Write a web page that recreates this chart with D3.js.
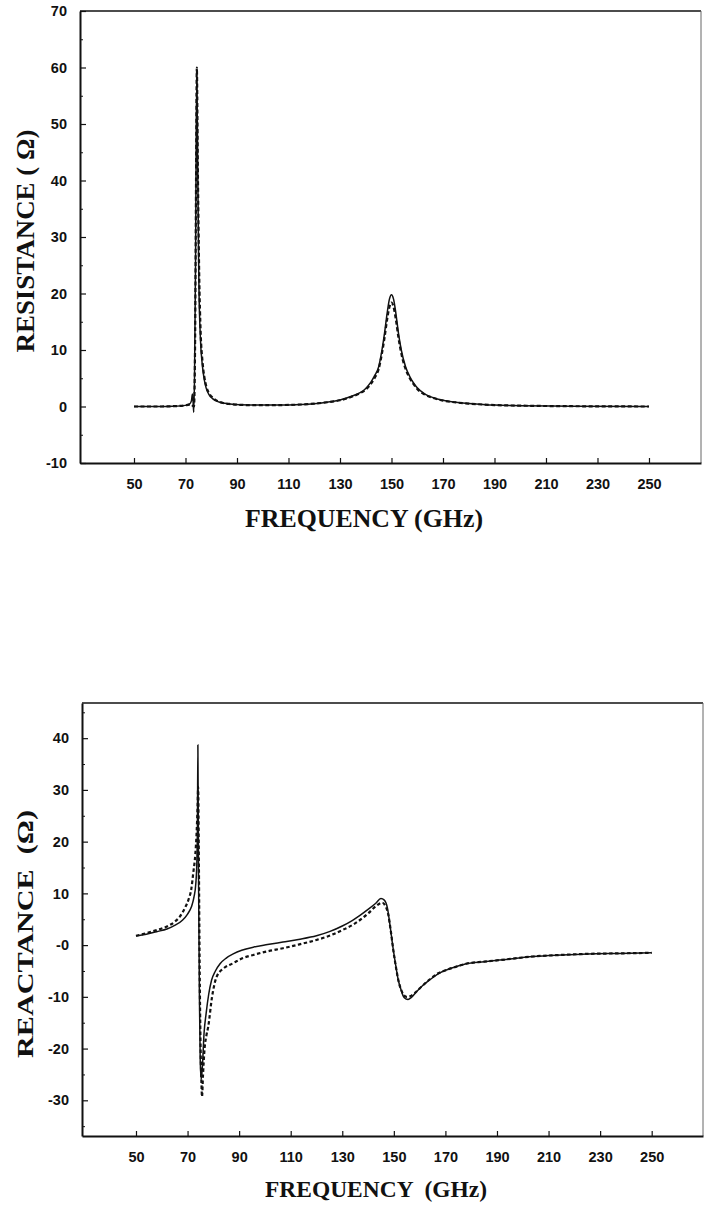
<!DOCTYPE html>
<html>
<head>
<meta charset="utf-8">
<script src="https://cdn.jsdelivr.net/npm/d3@7"></script>
<style>
  html, body { margin: 0; padding: 0; background: #fff; }
  svg { display: block; }
</style>
</head>
<body>
<script>
// ---------- DATA ----------
// Resistance (top panel)
const resSolidFreq = [50, 55, 60, 65, 70, 71.5, 72.3, 72.7, 73.0, 73.2, 73.5, 73.9, 74.2, 74.4, 74.8, 75.2, 75.8, 76.5, 77.2, 78, 79, 80.5, 83, 87, 95, 105, 115, 120, 125, 130, 135, 138, 140, 142, 143.5, 145, 146.3, 147.3, 148.3, 149.2, 150, 150.8, 151.7, 152.7, 153.8, 155.5, 157, 158.5, 160, 163, 166, 170, 175, 180, 190, 200, 220, 250];
const resSolid     = [0, 0, 0, 0.05, 0.2, 0.4, 1.0, 2.2, 0.5, -1.0, 5, 25, 50, 58, 40, 22, 12, 7.5, 5, 3.3, 2.2, 1.4, 0.8, 0.45, 0.25, 0.25, 0.35, 0.5, 0.75, 1.15, 1.9, 2.5, 3.2, 4.3, 5.5, 7.0, 10, 13, 16.5, 19, 19.8, 19, 16.5, 13, 10, 7.0, 5.4, 4.2, 3.3, 2.2, 1.6, 1.1, 0.75, 0.55, 0.25, 0.15, 0.05, 0];

const resDashFreq = [50, 55, 60, 65, 70, 72, 73.3, 73.7, 74.1, 74.4, 74.8, 75.3, 75.9, 76.6, 77.3, 78.1, 79.2, 80.7, 83, 87, 95, 105, 115, 120, 125, 130, 135, 138, 140, 142, 143.5, 145, 146.3, 147.3, 148.3, 149.2, 150, 150.8, 151.7, 152.7, 153.8, 155.5, 157, 158.5, 160, 163, 166, 170, 175, 180, 190, 200, 220, 250];
const resDash     = [0, 0, 0, 0.05, 0.2, 0.4, 0, 10, 40, 60, 42, 24, 13, 8, 5.3, 3.5, 2.3, 1.5, 0.85, 0.45, 0.25, 0.25, 0.35, 0.5, 0.75, 1.1, 1.8, 2.4, 3.0, 4.0, 5.1, 6.6, 9.4, 12.2, 15.4, 17.6, 18.4, 17.6, 15.4, 12.2, 9.4, 6.6, 5.1, 4.0, 3.1, 2.1, 1.55, 1.05, 0.72, 0.52, 0.25, 0.15, 0.05, 0];

// Reactance (bottom panel)
const reaSolidFreq = [50, 54, 58, 62, 65, 68, 70, 71.5, 72.5, 73.2, 73.6, 73.85, 74.0, 74.3, 74.6, 74.9, 75.3, 75.8, 76.4, 77.2, 78.2, 79.3, 80.8, 82.6, 85, 87.7, 91, 95.5, 101, 107, 113, 120, 125, 130, 134, 137, 140, 143, 145, 146.3, 147.5, 148.6, 149.7, 150.7, 151.7, 152.7, 153.6, 154.6, 155.5, 156.8, 158.8, 161, 164, 167, 170.4, 174, 178, 185, 191, 204, 215, 225, 237, 250];
const reaSolid     = [1.75, 2.1, 2.6, 3.1, 3.8, 4.8, 6.0, 7.4, 9.3, 11.9, 16, 24, 38.7, 10, -10, -22, -26, -23, -17, -13.2, -9.5, -6.8, -5, -3.6, -2.5, -1.7, -1.0, -0.4, 0.1, 0.6, 1.1, 1.8, 2.6, 3.7, 4.8, 5.8, 6.9, 8.1, 9.0, 8.7, 7.2, 3.5, -0.6, -3.8, -6.7, -8.5, -9.8, -10.4, -10.5, -10.1, -9.0, -7.9, -6.7, -5.6, -4.8, -4.2, -3.6, -3.2, -2.9, -2.2, -1.9, -1.7, -1.6, -1.5];

const reaDashFreq = [50, 54, 58, 62, 65, 67, 69, 70.3, 71.5, 72.2, 73, 73.5, 73.9, 74.1, 74.4, 74.7, 75.0, 75.4, 75.6, 76, 76.6, 77.3, 78, 79.5, 81.3, 84, 87.7, 91, 95.5, 101, 107, 113, 120, 125, 130, 134, 137, 140, 143, 145.5, 146.7, 147.8, 148.8, 149.8, 150.8, 151.8, 152.8, 153.8, 155, 156.2, 158, 161, 164, 167, 170.4, 174, 178, 185, 191, 204, 215, 225, 237, 250];
const reaDash     = [1.8, 2.3, 2.9, 3.6, 4.5, 5.5, 7.2, 8.7, 11, 13.9, 17.5, 21.6, 27, 30.6, 15, -5, -18, -27, -29.3, -25, -20, -17.5, -15.8, -10, -6.1, -4.5, -3.5, -2.6, -1.9, -1.2, -0.6, 0.1, 1.0, 1.8, 2.9, 3.9, 4.9, 6.1, 7.5, 8.2, 7.6, 6.0, 2.8, -1.0, -4.2, -6.9, -8.6, -9.6, -10.0, -9.9, -9.3, -7.9, -6.6, -5.5, -4.8, -4.2, -3.6, -3.2, -2.9, -2.2, -1.9, -1.7, -1.6, -1.5];

// Ticks
const xTicks = [50, 70, 90, 110, 130, 150, 170, 190, 210, 230, 250];
const resYTicks = [-10, 0, 10, 20, 30, 40, 50, 60, 70];
const resYTickLabels = ["-10", "0", "10", "20", "30", "40", "50", "60", "70"];
const reaYTicks = [-30, -20, -10, 0, 10, 20, 30, 40];
const reaYTickLabels = ["-30", "-20", "-10", "-0", "10", "20", "30", "40"];

// ---------- DRAW ----------
const W = 710, H = 1205;
const svg = d3.select("body").append("svg").attr("width", W).attr("height", H)
  .style("background", "#fff");

function zip(fs, vs) { return fs.map((f, i) => ({ f: f, v: vs[i] })); }

function panel(cfg) {
  const x = d3.scaleLinear().domain(cfg.xDomain).range([cfg.left, cfg.right]);
  const y = d3.scaleLinear().domain(cfg.yDomain).range([cfg.bottom, cfg.top]);
  const g = svg.append("g");

  const clipId = "clip" + cfg.id;
  svg.append("clipPath").attr("id", clipId).append("rect")
    .attr("x", cfg.left).attr("y", cfg.top)
    .attr("width", cfg.right - cfg.left).attr("height", cfg.bottom - cfg.top);

  // frame: top and right
  g.append("line").attr("x1", cfg.left).attr("x2", cfg.right).attr("y1", cfg.top).attr("y2", cfg.top)
    .attr("stroke", "#111").attr("stroke-width", 1.6);
  g.append("line").attr("x1", cfg.right).attr("x2", cfg.right).attr("y1", cfg.top).attr("y2", cfg.bottom)
    .attr("stroke", "#666").attr("stroke-width", 1);

  // bottom axis
  const xAxis = d3.axisBottom(x).tickValues(xTicks).tickSizeInner(-5).tickSizeOuter(0).tickPadding(16)
    .tickFormat(d3.format("d"));
  const gx = g.append("g").attr("transform", `translate(0,${cfg.bottom})`).call(xAxis);
  gx.select(".domain").attr("stroke", "#111").attr("stroke-width", 2);
  gx.selectAll(".tick line").attr("stroke", "#111").attr("stroke-width", 1.2);
  gx.selectAll(".tick text").attr("font-family", "'Liberation Sans', Arial, sans-serif")
    .attr("font-size", 14.5).attr("font-weight", "bold").attr("fill", "#111");

  // left axis (minor ticks first)
  const minor = d3.range(cfg.yDomain[0], cfg.yDomain[1] + 0.001, 5)
    .map(v => Math.round(v / 5) * 5).filter(v => v % 10 !== 0 && v >= cfg.yDomain[0] && v <= cfg.yDomain[1]);
  const yMinor = d3.axisLeft(y).tickValues(minor).tickSizeInner(-3).tickSizeOuter(0).tickFormat("");
  const gym = g.append("g").attr("transform", `translate(${cfg.left},0)`).call(yMinor);
  gym.select(".domain").remove();
  gym.selectAll(".tick line").attr("stroke", "#111").attr("stroke-width", 1);

  const labels = cfg.yTickLabels;
  const yAxis = d3.axisLeft(y).tickValues(cfg.yTicks).tickSizeInner(-6).tickSizeOuter(0).tickPadding(13)
    .tickFormat((d, i) => labels[i]);
  const gy = g.append("g").attr("transform", `translate(${cfg.left},0)`).call(yAxis);
  gy.select(".domain").attr("stroke", "#111").attr("stroke-width", 2);
  gy.selectAll(".tick line").attr("stroke", "#111").attr("stroke-width", 1.2);
  gy.selectAll(".tick text").attr("font-family", "'Liberation Sans', Arial, sans-serif")
    .attr("font-size", 14.5).attr("font-weight", "bold").attr("fill", "#111");

  // lines
  const line = d3.line().x(d => x(d.f)).y(d => y(d.v)).curve(d3.curveMonotoneX);
  const lg = g.append("g").attr("clip-path", `url(#${clipId})`);
  lg.append("path").datum(zip(cfg.dashF, cfg.dashV)).attr("d", line)
    .attr("fill", "none").attr("stroke", "#111").attr("stroke-width", 2.2)
    .attr("stroke-dasharray", cfg.dash);
  lg.append("path").datum(zip(cfg.solidF, cfg.solidV)).attr("d", line)
    .attr("fill", "none").attr("stroke", "#111").attr("stroke-width", 1.5);

  // titles
  g.append("text").attr("x", cfg.xTitleX).attr("y", cfg.xTitleY)
    .attr("text-anchor", "middle")
    .attr("font-family", "'Liberation Serif', 'Times New Roman', serif")
    .attr("font-weight", "bold").attr("font-size", cfg.xTitleSize).attr("fill", "#111")
    .attr("textLength", cfg.xTitleLen).attr("lengthAdjust", "spacingAndGlyphs")
    .style("white-space", "pre")
    .text(cfg.xTitle);
  g.append("text").attr("transform", `translate(${cfg.yTitleX},${cfg.yTitleY}) rotate(-90)`)
    .attr("text-anchor", "middle")
    .attr("font-family", "'Liberation Serif', 'Times New Roman', serif")
    .attr("font-weight", "bold").attr("font-size", cfg.yTitleSize).attr("fill", "#111")
    .attr("textLength", cfg.yTitleLen).attr("lengthAdjust", "spacingAndGlyphs")
    .style("white-space", "pre")
    .text(cfg.yTitle);
}

panel({
  id: "res",
  left: 80, right: 701, top: 11, bottom: 463,
  xDomain: [29.03, 270.2], yDomain: [-10, 70],
  yTicks: resYTicks, yTickLabels: resYTickLabels,
  solidF: resSolidFreq, solidV: resSolid, dashF: resDashFreq, dashV: resDash,
  dash: "4,2.5",
  xTitle: "FREQUENCY (GHz)", xTitleX: 364, xTitleY: 527, xTitleSize: 25, xTitleLen: 238,
  yTitle: "RESISTANCE ( \u03A9)", yTitleX: 34, yTitleY: 241, yTitleSize: 25, yTitleLen: 223
});

panel({
  id: "rea",
  left: 82, right: 703, top: 703, bottom: 1136,
  xDomain: [29.06, 269.9], yDomain: [-36.9, 46.8],
  yTicks: reaYTicks, yTickLabels: reaYTickLabels,
  solidF: reaSolidFreq, solidV: reaSolid, dashF: reaDashFreq, dashV: reaDash,
  dash: "3.5,2.5",
  xTitle: "FREQUENCY  (GHz)", xTitleX: 376, xTitleY: 1197, xTitleSize: 24, xTitleLen: 222,
  yTitle: "REACTANCE  (\u03A9)", yTitleX: 33, yTitleY: 934, yTitleSize: 24, yTitleLen: 248
});
</script>
</body>
</html>
